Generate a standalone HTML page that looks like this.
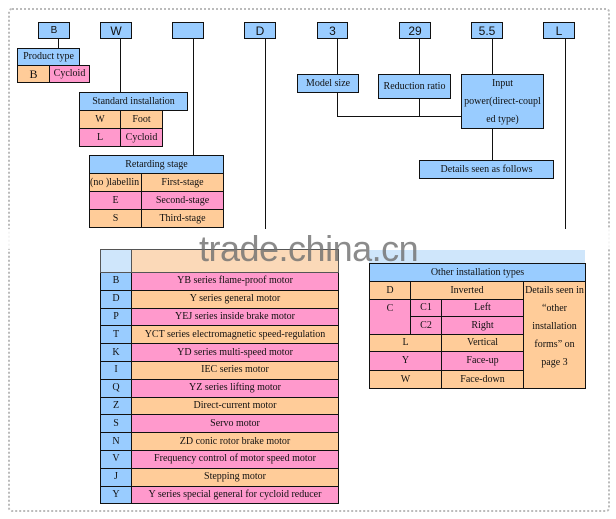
<!DOCTYPE html>
<html><head><meta charset="utf-8"><style>
body{margin:0;width:616px;height:519px;background:#fff;position:relative;overflow:hidden;font-family:"Liberation Serif",serif;font-size:10px;color:#111}
.b{position:absolute;box-sizing:border-box;border:1px solid #111;display:flex;align-items:center;justify-content:center;text-align:center;line-height:18px}
.bl{background:#99ccff}.o{background:#ffcc99}.p{background:#ff99cc}
.t{font-family:"Liberation Sans",sans-serif;font-size:12px}
.l{position:absolute;background:#111}
.frame{position:absolute;left:8px;top:8px;width:598px;height:500px;border:2px dotted #bbb;border-radius:4px}
</style></head><body>
<div class="frame"></div>
<!-- top boxes -->
<div class="b bl t" style="left:38px;top:22px;width:32px;height:17px;font-size:10px">B</div>
<div class="b bl t" style="left:100px;top:22px;width:32px;height:17px">W</div>
<div class="b bl t" style="left:172px;top:22px;width:32px;height:17px"></div>
<div class="b bl t" style="left:244px;top:22px;width:32px;height:17px">D</div>
<div class="b bl t" style="left:317px;top:22px;width:31px;height:17px">3</div>
<div class="b bl t" style="left:399px;top:22px;width:32px;height:17px">29</div>
<div class="b bl t" style="left:471px;top:22px;width:32px;height:17px">5.5</div>
<div class="b bl t" style="left:543px;top:22px;width:32px;height:17px">L</div>
<!-- lines -->
<div class="l" style="left:58px;top:39px;width:1px;height:10px"></div>
<div class="l" style="left:120px;top:39px;width:1px;height:54px"></div>
<div class="l" style="left:193px;top:39px;width:1px;height:117px"></div>
<div class="l" style="left:265px;top:39px;width:1px;height:190px"></div>
<div class="l" style="left:565px;top:39px;width:1px;height:190px"></div>
<div class="l" style="left:337px;top:39px;width:1px;height:78px"></div>
<div class="l" style="left:419px;top:39px;width:1px;height:78px"></div>
<div class="l" style="left:492px;top:39px;width:1px;height:121px"></div>
<div class="l" style="left:337px;top:116px;width:125px;height:1px"></div>
<!-- product type -->
<div class="b bl" style="left:17px;top:48px;width:63px;height:18px">Product type</div>
<div class="b o" style="left:17px;top:65px;width:33px;height:18px;font-size:12px">B</div>
<div class="b p" style="left:49px;top:65px;width:41px;height:18px">Cycloid</div>
<!-- standard -->
<div class="b bl" style="left:79px;top:92px;width:109px;height:19px">Standard installation</div>
<div class="b o" style="left:79px;top:110px;width:42px;height:19px">W</div>
<div class="b o" style="left:120px;top:110px;width:43px;height:19px">Foot</div>
<div class="b p" style="left:79px;top:128px;width:42px;height:19px">L</div>
<div class="b p" style="left:120px;top:128px;width:43px;height:19px">Cycloid</div>
<!-- retarding -->
<div class="b bl" style="left:89px;top:155px;width:135px;height:19px">Retarding stage</div>
<div class="b o" style="left:89px;top:173px;width:53px;height:19px;overflow:hidden;white-space:nowrap;justify-content:flex-start">(no )labellin</div>
<div class="b o" style="left:141px;top:173px;width:83px;height:19px">First-stage</div>
<div class="b p" style="left:89px;top:191px;width:53px;height:19px">E</div>
<div class="b p" style="left:141px;top:191px;width:83px;height:19px">Second-stage</div>
<div class="b o" style="left:89px;top:209px;width:53px;height:19px">S</div>
<div class="b o" style="left:141px;top:209px;width:83px;height:19px">Third-stage</div>
<!-- right -->
<div class="b bl" style="left:297px;top:74px;width:62px;height:19px">Model size</div>
<div class="b bl" style="left:378px;top:74px;width:73px;height:25px">Reduction ratio</div>
<div class="b bl" style="left:461px;top:74px;width:83px;height:55px">Input<br>power(direct-coupl<br>ed type)</div>
<div class="b bl" style="left:419px;top:160px;width:135px;height:19px">Details seen as follows</div>
<!-- motor table -->
<div id="m"></div>
<div class="b" style="left:100px;top:249px;width:32px;height:24px;background:#cfe6fb;border-color:#555"></div>
<div class="b" style="left:131px;top:249px;width:208px;height:24px;background:#fbd9b8;border-color:#555"></div>
<script>
var r=[["B","YB series flame-proof motor"],["D","Y series general motor"],["P","YEJ series inside brake motor"],["T","YCT series electromagnetic speed-regulation"],["K","YD series multi-speed motor"],["I","IEC series motor"],["Q","YZ series lifting motor"],["Z","Direct-current motor"],["S","Servo motor"],["N","ZD conic rotor brake motor"],["V","Frequency control of motor speed motor"],["J","Stepping motor"],["Y","Y series special general for cycloid reducer"]];
var h="";for(var i=0;i<r.length;i++){var y=272+i*17.8;var c=i%2?"o":"p";
h+='<div class="b bl" style="left:100px;top:'+y+'px;width:32px;height:18.8px">'+r[i][0]+'</div>';
h+='<div class="b '+c+'" style="left:131px;top:'+y+'px;width:208px;height:18.8px">'+r[i][1]+'</div>';}
document.getElementById("m").outerHTML=h;
</script>
<!-- other install -->
<div style="position:absolute;left:369px;top:250px;width:216px;height:14px;background:#cfe6fb"></div>
<div class="b bl" style="left:369px;top:263px;width:217px;height:19px">Other installation types</div>
<div class="b o" style="left:369px;top:281px;width:42px;height:19px">D</div>
<div class="b o" style="left:410px;top:281px;width:114px;height:19px">Inverted</div>
<div class="b p" style="left:369px;top:299px;width:42px;height:36px;align-items:flex-start">C</div>
<div class="b p" style="left:410px;top:299px;width:32px;height:18px">C1</div>
<div class="b p" style="left:441px;top:299px;width:83px;height:18px">Left</div>
<div class="b p" style="left:410px;top:316px;width:32px;height:19px">C2</div>
<div class="b p" style="left:441px;top:316px;width:83px;height:19px">Right</div>
<div class="b o" style="left:369px;top:334px;width:73px;height:18px">L</div>
<div class="b o" style="left:441px;top:334px;width:83px;height:18px">Vertical</div>
<div class="b p" style="left:369px;top:351px;width:73px;height:20px">Y</div>
<div class="b p" style="left:441px;top:351px;width:83px;height:20px">Face-up</div>
<div class="b o" style="left:369px;top:370px;width:73px;height:19px">W</div>
<div class="b o" style="left:441px;top:370px;width:83px;height:19px">Face-down</div>
<div class="b o" style="left:523px;top:281px;width:63px;height:108px;align-items:flex-start;line-height:18px;white-space:nowrap">Details seen in<br>“other<br>installation<br>forms” on<br>page 3</div>
<!-- watermark -->
<div style="position:absolute;left:0;top:229px;width:616px;height:20px;background:rgba(255,255,255,0.85)"></div>
<div style="position:absolute;left:199px;top:228px;font-family:'Liberation Sans',sans-serif;font-size:36px;color:rgba(110,110,110,0.8);letter-spacing:-0.5px">trade.china.cn</div>
</body></html>
